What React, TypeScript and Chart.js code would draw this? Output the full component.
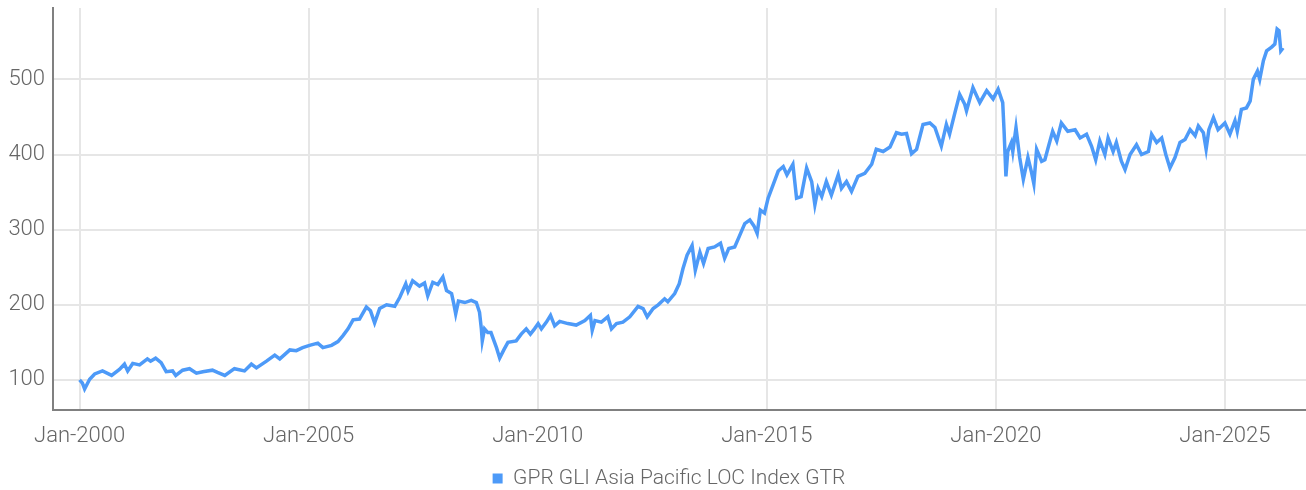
import React, { useEffect, useRef } from 'react';
import Chart from 'chart.js/auto';

const seriesLabel = 'GPR GLI Asia Pacific LOC Index GTR';

const years = [
  2000.0, 2000.06, 2000.11, 2000.22, 2000.33, 2000.5, 2000.7, 2000.87, 2000.98,
  2001.05, 2001.16, 2001.31, 2001.48, 2001.55, 2001.66, 2001.78, 2001.89,
  2002.03, 2002.1, 2002.25, 2002.4, 2002.55, 2002.69, 2002.9,
  2003.01, 2003.17, 2003.38, 2003.6, 2003.75, 2003.86,
  2004.08, 2004.26, 2004.37, 2004.59, 2004.73, 2004.87,
  2005.02, 2005.2, 2005.31, 2005.5, 2005.64, 2005.75, 2005.86, 2005.97,
  2006.11, 2006.26, 2006.35, 2006.44, 2006.55, 2006.7, 2006.88, 2006.99,
  2007.12, 2007.17, 2007.27, 2007.42, 2007.53, 2007.6, 2007.71, 2007.82, 2007.93,
  2008.01, 2008.12, 2008.17, 2008.21, 2008.27, 2008.41, 2008.55, 2008.66, 2008.73, 2008.77, 2008.79, 2008.84, 2008.91, 2008.98,
  2009.1, 2009.17, 2009.26, 2009.35, 2009.53, 2009.64, 2009.75, 2009.84, 2009.93,
  2010.01, 2010.08, 2010.19, 2010.28, 2010.37, 2010.48, 2010.66, 2010.84,
  2011.03, 2011.15, 2011.19, 2011.25, 2011.39, 2011.53, 2011.61, 2011.72, 2011.86,
  2012.01, 2012.19, 2012.3, 2012.39, 2012.52, 2012.63, 2012.77, 2012.84, 2012.99,
  2013.09, 2013.17, 2013.26, 2013.37, 2013.44, 2013.54, 2013.62, 2013.72, 2013.86, 2013.99,
  2014.08, 2014.17, 2014.3, 2014.4, 2014.52, 2014.63, 2014.72, 2014.79, 2014.86, 2014.95,
  2015.03, 2015.14, 2015.25, 2015.36, 2015.44, 2015.57, 2015.65, 2015.75, 2015.87, 2015.98,
  2016.05, 2016.12, 2016.2, 2016.3, 2016.41, 2016.56, 2016.63, 2016.74, 2016.85, 2016.99,
  2017.14, 2017.29, 2017.39, 2017.54, 2017.69, 2017.83, 2017.94,
  2018.05, 2018.16, 2018.27, 2018.41, 2018.56, 2018.67, 2018.81, 2018.92, 2018.99,
  2019.1, 2019.21, 2019.32, 2019.36, 2019.5, 2019.65, 2019.8, 2019.94,
  2020.05, 2020.15, 2020.18, 2020.22, 2020.26, 2020.34, 2020.37, 2020.44, 2020.52, 2020.6, 2020.7, 2020.78, 2020.83, 2020.89,
  2021.0, 2021.07, 2021.15, 2021.24, 2021.33, 2021.43, 2021.57, 2021.73, 2021.84, 2021.98,
  2022.09, 2022.18, 2022.27, 2022.38, 2022.45, 2022.56, 2022.63, 2022.74, 2022.82, 2022.93,
  2023.07, 2023.18, 2023.33, 2023.4, 2023.51, 2023.62, 2023.71, 2023.8, 2023.91,
  2024.02, 2024.13, 2024.24, 2024.35, 2024.42, 2024.53, 2024.59, 2024.65, 2024.75, 2024.85,
  2025.0, 2025.11, 2025.22, 2025.27, 2025.36, 2025.47, 2025.55, 2025.62, 2025.71, 2025.76, 2025.84, 2025.91,
  2026.02, 2026.09, 2026.14, 2026.18, 2026.22, 2026.27,
];

const values = [
  100, 96, 88, 101, 108, 112, 106, 114, 121,
  112, 122, 120, 128, 125, 129, 123, 111,
  112, 106, 113, 115, 109, 111, 113,
  110, 106, 115, 112, 121, 116,
  125, 133, 128, 140, 139, 143,
  146, 149, 143, 146, 151, 159, 168, 180,
  181, 197, 192, 176, 195, 200, 198, 210,
  228, 218, 232, 225, 229, 212, 230, 227, 237,
  219, 215, 201, 188, 205, 203, 206, 203, 190, 168, 152, 168, 163, 163,
  143, 129, 140, 150, 152, 161, 168, 161, 168,
  175, 168, 177, 186, 172, 178, 175, 173,
  179, 186, 166, 179, 177, 184, 168, 175, 177,
  184, 198, 195, 184, 195, 200, 208, 204, 215,
  228, 248, 266, 279, 246, 270, 255, 275, 277, 282,
  262, 275, 277, 291, 308, 313, 305, 295, 326, 322,
  342, 360, 378, 384, 373, 387, 342, 344, 382, 364,
  333, 355, 344, 364, 346, 373, 355, 364, 351, 371,
  375, 387, 407, 404, 410, 429, 427,
  428, 401, 407, 440, 442, 436, 411, 440, 427,
  454, 480, 467, 458, 489, 469, 485, 474,
  487, 469, 431, 371, 404, 416, 404, 436, 396, 367, 396, 376, 361, 407,
  391, 393, 411, 431, 418, 442, 431, 433, 422, 427,
  411, 393, 418, 400, 422, 404, 416, 391, 380, 400,
  413, 400, 404, 427, 416, 422, 400, 382, 396,
  416, 420, 433, 425, 438, 429, 407, 433, 449, 433,
  442, 427, 445, 431, 460, 462, 471, 500, 511, 500, 525, 538,
  543, 547, 567, 565, 538, 542,
];

const xTickYears = [2000, 2005, 2010, 2015, 2020, 2025];
const yTickValues = [100, 200, 300, 400, 500];

const legendShift = {
  id: 'legendShift',
  afterLayout(chart: any) {
    if (chart.legend) {
      chart.legend.left += 16;
      chart.legend.right += 16;
    }
  },
};

export default function App() {
  const ref = useRef<HTMLCanvasElement>(null);

  useEffect(() => {
    document.body.style.margin = '0';
    const canvas = ref.current!;
    const family = "Roboto, 'Noto Sans', sans-serif";
    const textColor = '#666666';
    const lineColor = '#4d9af8';
    const chart = new Chart(canvas, {
      type: 'line',
      data: {
        datasets: [
          {
            label: seriesLabel,
            data: years.map((x, i) => ({ x, y: values[i] })),
            borderColor: lineColor,
            backgroundColor: lineColor,
            borderWidth: 3.5,
            pointRadius: 0,
            tension: 0,
            fill: false,
          },
        ],
      },
      plugins: [legendShift],
      options: {
        animation: false,
        responsive: false,
        maintainAspectRatio: false,
        layout: { padding: { top: 8, left: 0, right: 0, bottom: -9 } },
        plugins: {
          legend: {
            position: 'bottom',
            labels: {
              boxWidth: 10,
              boxHeight: 10,
              padding: 10,
              color: textColor,
              font: { family, size: 21, weight: '300' },
              generateLabels: (c: any) =>
                (Chart as any).defaults.plugins.legend.labels
                  .generateLabels(c)
                  .map((l: any) => ({ ...l, lineWidth: 0 })),
            },
          },
          tooltip: { enabled: false },
        },
        scales: {
          x: {
            type: 'linear',
            min: 1999.42,
            max: 2026.77,
            afterBuildTicks: (s: any) => {
              s.ticks = xTickYears.map((v) => ({ value: v }));
            },
            afterFit: (s: any) => {
              s.height = 48;
              s.paddingLeft = 0;
              s.paddingRight = 0;
            },
            ticks: {
              callback: (v: any) => 'Jan-' + v,
              color: textColor,
              font: { family, size: 22, weight: '300' },
              padding: 13,
              maxRotation: 0,
              autoSkip: false,
            },
            grid: { color: '#e6e6e6', lineWidth: 2, drawTicks: false },
            border: { color: '#808080', width: 2 },
          },
          y: {
            type: 'linear',
            min: 60,
            max: 595,
            afterBuildTicks: (s: any) => {
              s.ticks = yTickValues.map((v) => ({ value: v }));
            },
            afterFit: (s: any) => {
              s.width = 53;
              s.paddingTop = 0;
              s.paddingBottom = 0;
            },
            ticks: {
              color: textColor,
              font: { family, size: 22, weight: '300' },
              padding: 8,
            },
            grid: { color: '#e6e6e6', lineWidth: 2, drawTicks: false },
            border: { color: '#808080', width: 2 },
          },
        },
      },
    });
    return () => chart.destroy();
  }, []);

  return (
    <div style={{ position: 'absolute', left: 0, top: 0, width: 1306, height: 490, overflow: 'hidden' }}>
      <canvas ref={ref} width={1306} height={490} style={{ display: 'block' }} />
    </div>
  );
}
